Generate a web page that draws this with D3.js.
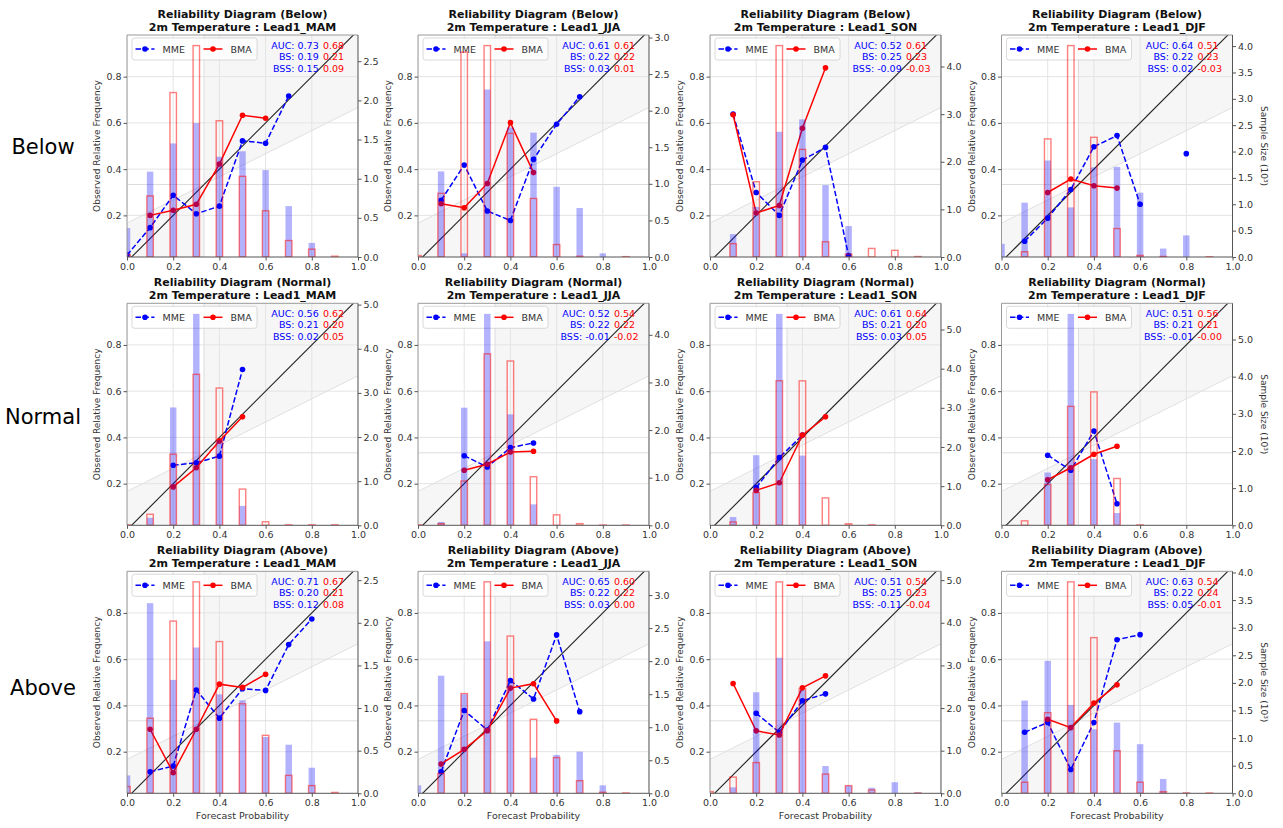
<!DOCTYPE html>
<html>
<head>
<meta charset="utf-8">
<script src="https://cdn.jsdelivr.net/npm/d3@7"></script>
<style>
body{margin:0;background:#fff;}
text{font-family:"DejaVu Sans",sans-serif;}
</style>
</head>
<body>
<svg id="chart" width="1283" height="828"></svg>
<script>
var probBins = [0, 0.1, 0.2, 0.3, 0.4, 0.5, 0.6, 0.7, 0.8, 0.9];
var seasons = ["MAM", "JJA", "SON", "DJF"];
var categories = ["Below", "Normal", "Above"];
var xTicks = [0, 0.2, 0.4, 0.6, 0.8, 1.0];
var yTicks = [0.2, 0.4, 0.6, 0.8];

// observed relative frequency per bin, one row per season (MAM, JJA, SON, DJF)
var mmeObsBelow = [
	[0.028, 0.147, 0.287, 0.207, 0.240, 0.522, 0.512, 0.716, null, null],
	[null, 0.265, 0.418, 0.219, 0.178, 0.442, 0.594, 0.713, null, null],
	[null, 0.638, 0.299, 0.200, 0.439, 0.494, 0.026, null, null, null],
	[null, 0.088, 0.188, 0.312, 0.497, 0.545, 0.248, null, 0.467, null]
];
var bmaObsBelow = [
	[null, 0.200, 0.222, 0.248, 0.422, 0.633, 0.620, null, null, null],
	[null, 0.250, 0.233, 0.338, 0.601, 0.385, null, null, null, null],
	[null, 0.635, 0.210, 0.243, 0.577, 0.838, null, null, null, null],
	[null, null, 0.299, 0.357, 0.328, 0.318, null, null, null, null]
];
var mmeObsNormal = [
	[null, null, 0.280, 0.290, 0.319, 0.694, null, null, null, null],
	[null, null, 0.321, 0.272, 0.356, 0.376, null, null, null, null],
	[null, null, 0.183, 0.313, 0.410, null, null, null, null, null],
	[null, null, 0.323, 0.258, 0.428, 0.113, null, null, null, null]
];
var bmaObsNormal = [
	[null, null, 0.186, 0.269, 0.385, 0.489, null, null, null, null],
	[null, null, 0.258, 0.284, 0.337, 0.340, null, null, null, null],
	[null, null, 0.171, 0.204, 0.410, 0.489, null, null, null, null],
	[null, null, 0.217, 0.269, 0.327, 0.362, null, null, null, null]
];
var mmeObsAbove = [
	[null, 0.113, 0.138, 0.467, 0.345, 0.472, 0.465, 0.663, 0.774, null],
	[null, 0.113, 0.378, 0.294, 0.508, 0.428, 0.705, 0.373, null, null],
	[null, null, 0.366, 0.284, 0.420, 0.450, null, null, null, null],
	[null, 0.284, 0.326, 0.123, 0.326, 0.684, 0.706, null, null, null]
];
var bmaObsAbove = [
	[null, 0.297, 0.109, 0.297, 0.492, 0.478, 0.535, null, null, null],
	[null, 0.147, 0.210, 0.291, 0.475, 0.494, 0.333, null, null, null],
	[null, 0.495, 0.290, 0.272, 0.476, 0.528, null, null, null, null],
	[null, null, 0.340, 0.304, 0.410, 0.489, null, null, null, null]
];

// sample size per bin (10^3)
var mmeCountBelow = [
	[0.37, 1.09, 1.45, 1.71, 1.28, 1.35, 1.11, 0.65, 0.18, 0],
	[0, 1.17, 0.05, 2.29, 1.77, 1.70, 0.96, 0.67, 0.05, 0],
	[0, 0.48, 1.05, 2.63, 2.89, 1.51, 0.65, 0, 0, 0],
	[0.25, 1.03, 1.83, 0.94, 1.70, 1.71, 1.22, 0.16, 0.41, 0]
];
var bmaCountBelow = [
	[0.03, 0.78, 2.10, 2.70, 1.74, 1.03, 0.59, 0.21, 0.10, 0.01],
	[0.02, 0.87, 2.80, 2.89, 1.69, 0.80, 0.17, 0.01, 0, 0.005],
	[0, 0.28, 1.58, 4.44, 2.26, 0.32, 0.06, 0.18, 0.14, 0.01],
	[0, 0.10, 2.24, 4.01, 2.27, 0.54, 0.03, 0.01, 0, 0.005]
];
var mmeCountNormal = [
	[0, 0.17, 2.67, 4.79, 1.93, 0.44, 0, 0, 0, 0],
	[0, 0.07, 2.47, 4.44, 2.33, 0.44, 0, 0, 0, 0],
	[0, 0.21, 1.79, 5.40, 1.78, 0, 0, 0, 0, 0],
	[0, 0, 1.42, 5.69, 1.78, 0.33, 0, 0, 0, 0]
];
var bmaCountNormal = [
	[0.01, 0.25, 1.61, 3.42, 3.11, 0.82, 0.08, 0.01, 0.01, 0.01],
	[0.01, 0.035, 0.93, 3.60, 3.45, 1.02, 0.22, 0.035, 0.005, 0.005],
	[0, 0.085, 0.84, 3.69, 3.69, 0.70, 0.04, 0.01, 0, 0],
	[0, 0.12, 1.10, 3.20, 3.59, 1.26, 0.01, 0, 0, 0]
];
var mmeCountAbove = [
	[0.21, 2.23, 1.33, 1.71, 1.16, 1.09, 0.66, 0.57, 0.30, 0],
	[0.12, 1.78, 1.50, 2.30, 1.68, 0.54, 0.58, 0.63, 0.12, 0],
	[0, 0.14, 2.37, 3.18, 2.42, 0.64, 0.18, 0.13, 0.26, 0.02],
	[0, 1.68, 2.40, 1.60, 1.16, 1.28, 0.89, 0.26, 0.01, 0]
];
var bmaCountAbove = [
	[0.08, 0.88, 2.02, 2.48, 1.78, 1.05, 0.68, 0.21, 0.09, 0.01],
	[0, 0.30, 1.51, 3.20, 2.38, 1.12, 0.54, 0.19, 0.015, 0.005],
	[0.04, 0.38, 0.72, 4.96, 2.46, 0.45, 0.18, 0.08, 0, 0.005],
	[0, 0.20, 1.46, 3.83, 2.82, 0.77, 0.20, 0.03, 0.005, 0.005]
];

// scores, rows = Below/Normal/Above, cols = seasons
var aucMME = [["0.73","0.61","0.52","0.64"],["0.56","0.52","0.61","0.51"],["0.71","0.65","0.51","0.63"]];
var aucBMA = [["0.68","0.61","0.61","0.51"],["0.62","0.54","0.64","0.56"],["0.67","0.60","0.54","0.54"]];
var bsMME  = [["0.19","0.22","0.25","0.22"],["0.21","0.22","0.21","0.21"],["0.20","0.22","0.25","0.22"]];
var bsBMA  = [["0.21","0.22","0.23","0.23"],["0.20","0.22","0.20","0.21"],["0.21","0.22","0.23","0.24"]];
var bssMME = [["0.15","0.03","-0.09","0.02"],["0.02","-0.01","0.03","-0.01"],["0.12","0.03","-0.11","0.05"]];
var bssBMA = [["0.09","0.01","-0.03","-0.03"],["0.05","-0.02","0.05","-0.00"],["0.08","0.00","-0.04","-0.01"]];

// right axis tick step per panel
var rightTickStep = [[0.5, 0.5, 1, 0.5], [1, 1, 1, 1], [0.5, 0.5, 1, 0.5]];

var mmeObs = [mmeObsBelow, mmeObsNormal, mmeObsAbove];
var bmaObs = [bmaObsBelow, bmaObsNormal, bmaObsAbove];
var mmeCount = [mmeCountBelow, mmeCountNormal, mmeCountAbove];
var bmaCount = [bmaCountBelow, bmaCountNormal, bmaCountAbove];

var svg = d3.select("#chart");
var colX = [127, 418, 710, 1001.5];
var rowY = [35, 303.3, 571.3];
var W = 231, H = 222;
var clim = 1/3;
var fmt1 = d3.format(".1f");

function styleAxis(g){
	g.select(".domain").remove();
	g.selectAll(".tick line").attr("stroke", "#555");
	g.selectAll(".tick text").attr("fill", "#333").attr("font-size", "9.5px")
		.attr("font-family", "DejaVu Sans, sans-serif");
}

function drawPanel(r, c){
	var x0 = colX[c], top = rowY[r];
	var x = d3.scaleLinear().domain([0, 1]).range([x0, x0 + W]);
	var y = d3.scaleLinear().domain([0.02, 0.98]).range([top + H, top]);
	var maxCount = d3.max(mmeCount[r][c].concat(bmaCount[r][c])) * 1.05;
	var yr = d3.scaleLinear().domain([0, maxCount]).range([top + H, top]);

	var id = "clip" + r + c;
	svg.append("clipPath").attr("id", id).append("rect")
		.attr("x", x0).attr("y", top).attr("width", W).attr("height", H);
	var g = svg.append("g").attr("clip-path", "url(#" + id + ")");

	g.append("rect").attr("x", x0).attr("y", top).attr("width", W).attr("height", H).attr("fill", "#fff");

	// skill area
	var poly = d3.line().x(function(d){return x(d[0])}).y(function(d){return y(d[1])});
	g.append("path").attr("d", poly([[clim, clim], [1, (1 + clim) / 2], [1, 1], [clim, 1]]) + "Z").attr("fill", "#f6f6f6");
	g.append("path").attr("d", poly([[0, 0], [0, clim / 2], [clim, clim], [clim, 0]]) + "Z").attr("fill", "#f6f6f6");

	// grid
	g.selectAll(".gx").data(xTicks).enter().append("line")
		.attr("x1", function(d){return x(d)}).attr("x2", function(d){return x(d)})
		.attr("y1", top).attr("y2", top + H).attr("stroke", "#e4e4e4").attr("stroke-width", 1);
	g.selectAll(".gy").data(yTicks).enter().append("line")
		.attr("x1", x0).attr("x2", x0 + W)
		.attr("y1", function(d){return y(d)}).attr("y2", function(d){return y(d)})
		.attr("stroke", "#e4e4e4").attr("stroke-width", 1);

	// climatology and no-skill lines
	g.append("line").attr("x1", x(clim)).attr("x2", x(clim)).attr("y1", top).attr("y2", top + H)
		.attr("stroke", "#dcdcdc").attr("stroke-width", 1);
	g.append("line").attr("x1", x0).attr("x2", x0 + W).attr("y1", y(clim)).attr("y2", y(clim))
		.attr("stroke", "#dcdcdc").attr("stroke-width", 1);
	g.append("line").attr("x1", x(0)).attr("x2", x(1)).attr("y1", y(clim / 2)).attr("y2", y((1 + clim) / 2))
		.attr("stroke", "#e0e0e0").attr("stroke-width", 1);
	// perfect reliability
	g.append("line").attr("x1", x(0)).attr("x2", x(1)).attr("y1", y(0)).attr("y2", y(1))
		.attr("stroke", "#222").attr("stroke-width", 1.1);

	var line = d3.line()
		.defined(function(d){return d[1] != null})
		.x(function(d){return x(d[0])}).y(function(d){return y(d[1])});

	var series = [
		{vals: mmeObs[r][c], color: "blue", dash: "5.5,2.4"},
		{vals: bmaObs[r][c], color: "red", dash: null}
	];
	series.forEach(function(s){
		var pts = probBins.map(function(p, i){return [p, s.vals[i]]});
		g.append("path").attr("d", line(pts)).attr("fill", "none")
			.attr("stroke", s.color).attr("stroke-width", 1.5)
			.attr("stroke-dasharray", s.dash);
		g.selectAll(null).data(pts.filter(function(d){return d[1] != null})).enter().append("circle")
			.attr("cx", function(d){return x(d[0])}).attr("cy", function(d){return y(d[1])})
			.attr("r", 2.8).attr("fill", s.color);
	});

	// legend
	var lg = svg.append("g").attr("transform", "translate(" + x0 + "," + top + ")");
	lg.append("rect").attr("x", 5).attr("y", 3).attr("width", 125).attr("height", 22).attr("rx", 2.5)
		.attr("fill", "#fff").attr("fill-opacity", 0.8).attr("stroke", "#cfcfcf").attr("stroke-width", 0.8);
	[{name: "MME", color: "blue", dash: "5.5,2.4", lx: 8.5},
	 {name: "BMA", color: "red", dash: null, lx: 76.5}].forEach(function(e){
		lg.append("line").attr("x1", e.lx).attr("x2", e.lx + 19).attr("y1", 14).attr("y2", 14)
			.attr("stroke", e.color).attr("stroke-width", 1.5).attr("stroke-dasharray", e.dash);
		lg.append("circle").attr("cx", e.lx + 9.5).attr("cy", 14).attr("r", 2.8).attr("fill", e.color);
		lg.append("text").attr("x", e.lx + 27).attr("y", 14).attr("dominant-baseline", "central")
			.attr("font-size", "9.5px").attr("fill", "#333").text(e.name);
	});

	// sample size bars (twin axis, drawn over the lines)
	var bw = x(0.028) - x(0);
	var bars = svg.append("g").attr("clip-path", "url(#" + id + ")");
	mmeCount[r][c].forEach(function(v, i){
		if (!(v > 0)) return;
		bars.append("rect").attr("x", x(probBins[i]) - bw / 2).attr("y", yr(v))
			.attr("width", bw).attr("height", yr(0) - yr(v))
			.attr("fill", "blue").attr("fill-opacity", 0.3);
	});
	bmaCount[r][c].forEach(function(v, i){
		if (!(v > 0)) return;
		bars.append("rect").attr("x", x(probBins[i]) - bw / 2).attr("y", yr(v))
			.attr("width", bw).attr("height", yr(0) - yr(v))
			.attr("fill", "none").attr("stroke", "red").attr("stroke-opacity", 0.5).attr("stroke-width", 1.4);
	});

	// scores
	var stats = [
		["AUC: " + aucMME[r][c], aucBMA[r][c]],
		["BS: " + bsMME[r][c], bsBMA[r][c]],
		["BSS: " + bssMME[r][c], bssBMA[r][c]]
	];
	stats.forEach(function(s, i){
		var ty = top + 10 + i * 11.5;
		svg.append("text").attr("x", x(0.83)).attr("y", ty).attr("text-anchor", "end")
			.attr("dominant-baseline", "central").attr("font-size", "9.5px").attr("fill", "blue").text(s[0]);
		svg.append("text").attr("x", x(0.848)).attr("y", ty)
			.attr("dominant-baseline", "central").attr("font-size", "9.5px").attr("fill", "red").text(s[1]);
	});

	// spines
	svg.append("line").attr("x1", x0).attr("x2", x0 + W).attr("y1", top).attr("y2", top).attr("stroke", "#999");
	svg.append("line").attr("x1", x0).attr("x2", x0).attr("y1", top).attr("y2", top + H).attr("stroke", "#999");
	svg.append("line").attr("x1", x0).attr("x2", x0 + W).attr("y1", top + H).attr("y2", top + H).attr("stroke", "#555");
	svg.append("line").attr("x1", x0 + W).attr("x2", x0 + W).attr("y1", top).attr("y2", top + H).attr("stroke", "#555");

	// axes
	svg.append("g").attr("transform", "translate(0," + (top + H) + ")")
		.call(d3.axisBottom(x).tickValues(xTicks).tickFormat(fmt1).tickSize(3.5).tickPadding(2.5))
		.call(styleAxis);
	svg.append("g").attr("transform", "translate(" + x0 + ",0)")
		.call(d3.axisLeft(y).tickValues(yTicks).tickFormat(fmt1).tickSize(3.5).tickPadding(2))
		.call(styleAxis);
	var step = rightTickStep[r][c];
	svg.append("g").attr("transform", "translate(" + (x0 + W) + ",0)")
		.call(d3.axisRight(yr).tickValues(d3.range(0, maxCount + 1e-9, step)).tickFormat(fmt1).tickSize(3.5).tickPadding(2))
		.call(styleAxis);

	// titles and labels
	var cx = x0 + W / 2;
	svg.append("text").attr("x", cx).attr("y", top - 17).attr("text-anchor", "middle")
		.attr("font-size", "11px").attr("font-weight", "bold").attr("fill", "#111")
		.text("Reliability Diagram (" + categories[r] + ")");
	svg.append("text").attr("x", cx).attr("y", top - 4.5).attr("text-anchor", "middle")
		.attr("font-size", "11px").attr("font-weight", "bold").attr("fill", "#111")
		.text("2m Temperature : Lead1_" + seasons[c]);
	svg.append("text").attr("transform", "translate(" + (x0 - 30) + "," + (top + H / 2) + ") rotate(-90)")
		.attr("text-anchor", "middle").attr("dominant-baseline", "central")
		.attr("font-size", "9px").attr("fill", "#333").text("Observed Relative Frequency");
	if (r === 2) {
		svg.append("text").attr("x", cx).attr("y", top + H + 22).attr("text-anchor", "middle")
			.attr("dominant-baseline", "central").attr("font-size", "9.5px").attr("fill", "#333")
			.text("Forecast Probability");
	}
	if (c === 3) {
		svg.append("text").attr("transform", "translate(" + (x0 + W + 31) + "," + (top + H / 2) + ") rotate(90)")
			.attr("text-anchor", "middle").attr("dominant-baseline", "central")
			.attr("font-size", "9px").attr("fill", "#333").text("Sample Size (10³)");
	}
}

for (var r = 0; r < 3; r++) {
	for (var c = 0; c < 4; c++) drawPanel(r, c);
}

// row labels
var rowLabelY = [147, 417, 688];
categories.forEach(function(name, i){
	svg.append("text").attr("x", 43).attr("y", rowLabelY[i]).attr("text-anchor", "middle")
		.attr("dominant-baseline", "central").attr("font-family", "Open Sans, sans-serif")
		.attr("font-size", "21px").attr("fill", "#000").text(name);
});
</script>
</body>
</html>
